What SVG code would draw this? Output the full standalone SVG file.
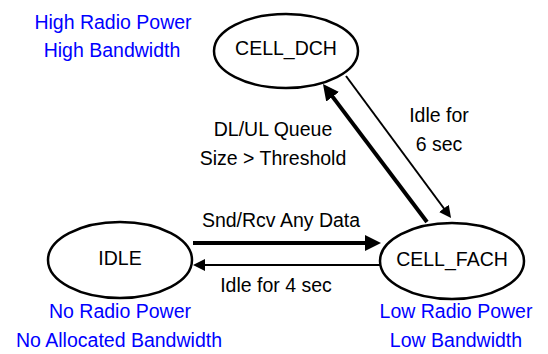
<svg xmlns="http://www.w3.org/2000/svg" width="548" height="354" viewBox="0 0 548 354">
  <style>
    .node ellipse { fill: #ffffff; stroke: #000000; stroke-width: 2.5; }
    text { font-family: "Liberation Sans", Arial, sans-serif; font-size: 19.5px; text-anchor: middle; }
    .lbl { fill: #000000; }
    .note { fill: #0000ff; }
    .thick { stroke: #000000; stroke-width: 4; fill: none; }
    .thin { stroke: #000000; stroke-width: 2; fill: none; }
  </style>
  <defs>
    <marker id="headThick" markerUnits="userSpaceOnUse" markerWidth="17" markerHeight="17" refX="3" refY="8" orient="auto">
      <path d="M0,0 L16,8 L0,16 z" fill="#000000"/>
    </marker>
    <marker id="headThin" markerUnits="userSpaceOnUse" markerWidth="13" markerHeight="13" refX="2" refY="6" orient="auto">
      <path d="M0,0 L12,6 L0,12 z" fill="#000000"/>
    </marker>
  </defs>

  <g id="connectors">
    <line class="thick" x1="193" y1="243" x2="368" y2="243" marker-end="url(#headThick)"/>
    <line class="thin" x1="380" y1="265" x2="203" y2="265" marker-end="url(#headThin)"/>
    <line class="thick" x1="427" y1="222" x2="330.8" y2="94.4" marker-end="url(#headThick)"/>
    <line class="thin" x1="346" y1="76" x2="445.1" y2="210" marker-end="url(#headThin)"/>
    <text class="lbl" x="281" y="227">Snd/Rcv Any Data</text>
    <text class="lbl" x="276" y="292">Idle for 4 sec</text>
    <text class="lbl" x="273" y="136">DL/UL Queue</text>
    <text class="lbl" x="273" y="165">Size &gt; Threshold</text>
    <text class="lbl" x="439" y="122">Idle for</text>
    <text class="lbl" x="439" y="151">6 sec</text>
  </g>

  <g id="CELL_DCH" class="node">
    <ellipse cx="286" cy="51" rx="72" ry="37"/>
    <text class="lbl" x="286" y="55">CELL_DCH</text>
    <text class="note" x="113" y="29">High Radio Power</text>
    <text class="note" x="112" y="57">High Bandwidth</text>
  </g>

  <g id="IDLE" class="node">
    <ellipse cx="120" cy="260" rx="72" ry="38"/>
    <text class="lbl" x="120" y="265">IDLE</text>
    <text class="note" x="120" y="318">No Radio Power</text>
    <text class="note" x="119" y="347">No Allocated Bandwidth</text>
  </g>

  <g id="CELL_FACH" class="node">
    <ellipse cx="452" cy="261" rx="72" ry="38"/>
    <text class="lbl" x="452" y="266">CELL_FACH</text>
    <text class="note" x="456" y="318">Low Radio Power</text>
    <text class="note" x="456" y="347">Low Bandwidth</text>
  </g>
</svg>
